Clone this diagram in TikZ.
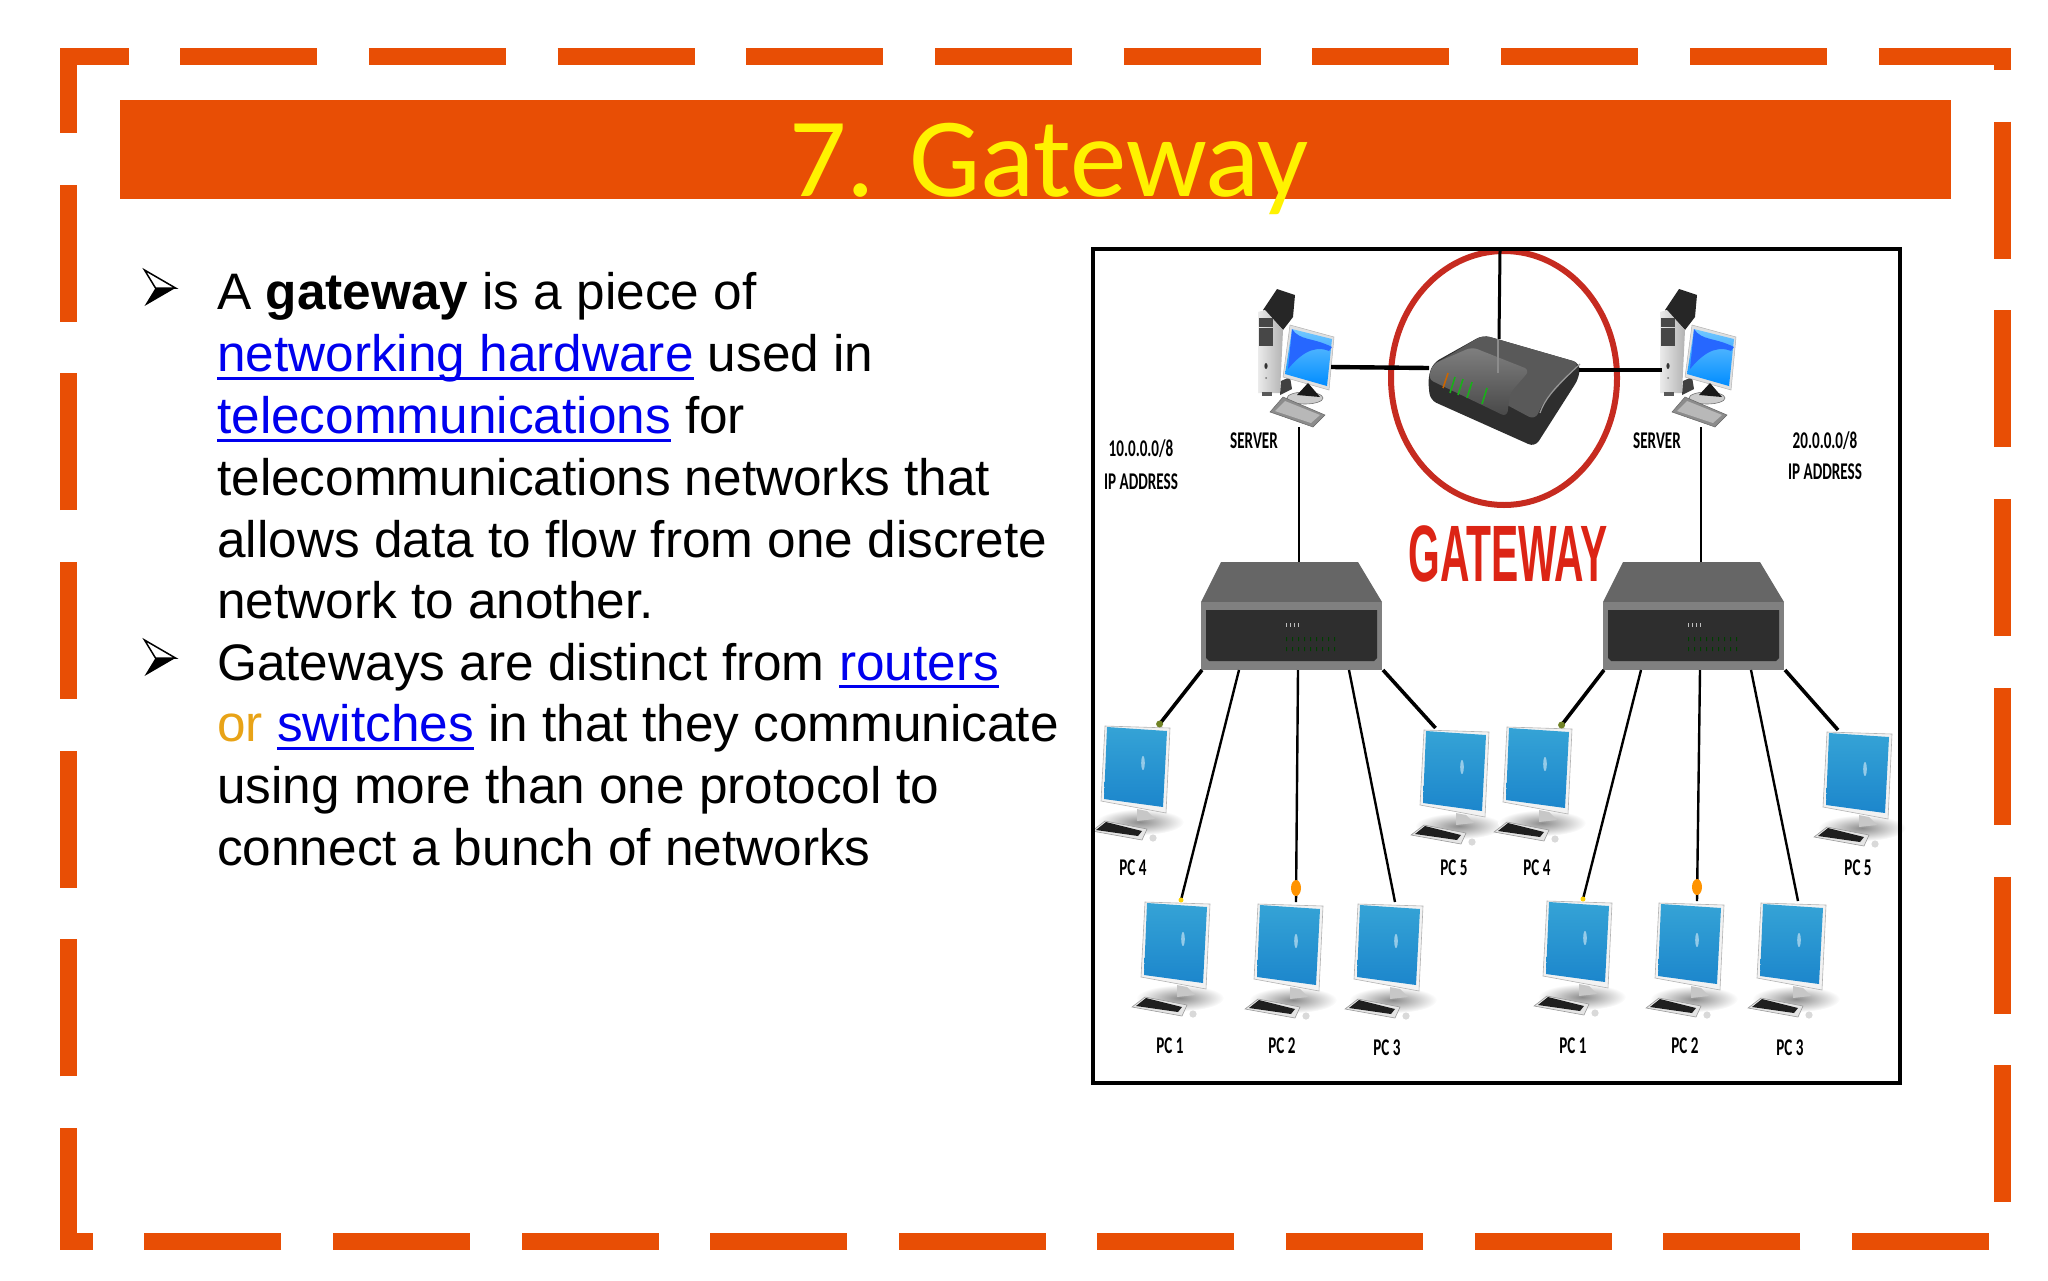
\documentclass[tikz,border=0pt]{standalone}
\usepackage{fontspec}
\setmainfont{Liberation Sans}
\newfontfamily\titlefont{Carlito}
\newfontfamily\pcfont[FakeStretch=.63]{Carlito}
\newfontfamily\gatefont[FakeStretch=.51]{Liberation Sans}
\definecolor{frameorange}{HTML}{E84E05}
\definecolor{linkblue}{HTML}{0000EE}
\definecolor{orword}{HTML}{E8A317}
\definecolor{ringred}{HTML}{C62B20}
\definecolor{gatered}{HTML}{DC2415}
\definecolor{scrtop}{HTML}{35A3D6}
\definecolor{scrbot}{HTML}{1C86CC}
\newsavebox{\linkbox}
\newcommand{\weblink}[1]{\textcolor{linkblue}{\sbox{\linkbox}{#1}\rlap{\rule[-8pt]{\wd\linkbox}{2.8pt}}\usebox{\linkbox}}}
\tikzset{
	framedash/.style={frameorange, line width=17pt, dash pattern=on 137pt off 51.7pt},
	bodytxt/.style={font=\fontsize{51.33}{61.8}\selectfont, align=left, anchor=north west, inner sep=0pt},
	pctxt/.style={font=\pcfont\bfseries\fontsize{24}{24}\selectfont, inner sep=0pt},
	cablethin/.style={draw=black, line width=2.4pt},
	cablethick/.style={draw=black, line width=3.6pt},
	pics/listarrow/.style={code={
		\fill [black] (0,36) -- (11,18) -- (31,18) -- cycle;
		\draw [black, line width=1.5pt, line join=miter, fill=white] (0,0) -- (31,18) -- (11,18) -- cycle;
	}},
	pics/pcunit/.style={code={
		\shade [inner color=black!45, outer color=white] (34,96) ellipse (44 and 13);
		\fill [black!22] (31,83) -- (41,85) -- (49,93) -- (31,95) -- cycle;
		\fill [black!5, draw=black!30, line width=.6pt] (-1,0) -- (64,2) -- (60,87) -- (-5,75) -- cycle;
		\shade [top color=scrtop, bottom color=scrbot] (1,1) -- (61,5) -- (57,81) -- (-2,73) -- cycle;
		\fill [white, opacity=.5] (37,37) ellipse (1.8 and 7);
		\fill [black!10, draw=black!40, line width=.6pt] (-14,105) -- (-1,95) -- (41,103) -- (36,114) -- cycle;
		\fill [black!88] (-10,104) -- (0,96) -- (36,105) -- (32,110) -- cycle;
		\fill [black!15] (47,112) circle (3.6);
		\coordinate (-top) at (#1,-2);
	}},
	pics/serverunit/.style={code={
		\fill [black!85] (17,0) -- (35,6) -- (33,28) -- (23,41) -- (3,21) -- cycle;
		\shade [left color=black!8, right color=black!30] (-2,23) -- (5,21) -- (23,41) -- (20,104) -- (-2,104) -- cycle;
		\foreach \bayy in {29,39,48}
			\fill [black!72] (-1,\bayy) rectangle (13,\bayy+9);
		\fill [black!80] (6,77) ellipse (1.6 and 3);
		\fill [black!55] (6,89) circle (1);
		\fill [black!65] (2,103) rectangle (12,107);
		\fill [black!75] (21,92) -- (30,88) -- (32,100) -- (20,106) -- cycle;
		\fill [black!12, draw=black!30, line width=.5pt] (30,36) -- (74,48) -- (69,101) -- (23,88) -- cycle;
		\shade [top color=blue!40!cyan!55, bottom color=blue!45!cyan] (32,40) -- (72,50) -- (67,97) -- (25,85) -- cycle;
		\fill [blue!70!cyan!85] (32,40) .. controls (40,52) and (52,48) .. (72,58) -- (69,62) .. controls (52,55) and (38,68) .. (28,80) -- cycle;
		\fill [black!20, draw=black!55, line width=.6pt] (45,109) ellipse (18 and 6);
		\fill [black!90] (37,106) -- (48,94) -- (60,108) -- cycle;
		\fill [black!45, draw=black!60, line width=.5pt] (10,123) -- (23,108) -- (65,126) -- (53,138) -- cycle;
		\fill [black!28] (15,122) -- (25,112) -- (60,126) -- (51,134) -- cycle;
		\coordinate (-out) at (71,78);
		\coordinate (-in) at (0,81);
		\coordinate (-bot) at (39,138);
	}},
	pics/switchbox/.style={code={
		\fill [black!60] (20,0) -- (157,0) -- (181,40) -- (0,40) -- cycle;
		\fill [black!50] (0,40) rectangle (181,108);
		\fill [black!82] (5,48) -- (176,48) -- (176,96) -- (173,99) -- (8,99) -- (5,96) -- cycle;
		\foreach \ledx in {85,89,93,97}
			\fill [black!25] (\ledx,61) rectangle +(1,4);
		\foreach \ledx in {85,91,...,133}
			\fill [green!25!black] (\ledx,75) rectangle +(1,4) (\ledx,85) rectangle +(1,4);
		\coordinate (-up) at (98,0);
		\coordinate (-pa) at (1,108);
		\coordinate (-pb) at (38,108);
		\coordinate (-pc) at (97,108);
		\coordinate (-pd) at (148,108);
		\coordinate (-pe) at (182,108);
	}},
	pics/routerbox/.style={code={
		\fill [black!82, rounded corners=7pt] (55,0) -- (152,28) -- (151,43) -- (107,112) -- (2,65) -- (0,43) -- (5,28) -- cycle;
		\fill [black!65, rounded corners=7pt] (55,0) -- (152,28) -- (115,68) -- (107,85) -- (79,70) -- (5,30) -- cycle;
		\shade [top color=black!50, bottom color=black!72, rounded corners=6pt] (5,29) -- (44,12) -- (102,35) -- (82,58) -- (79,82) -- (0,44) -- cycle;
		\draw [black!40, line width=1.2pt] (152,29) .. controls (135,45) and (118,60) .. (112,78);
		\draw [orange!80!black, line width=1.6pt] (20,38) -- (15,53);
		\foreach \ledx/\ledy in {27/42,35/44,44/47,59/53}
			\draw [green!65!black!90!white, line width=1.6pt] (\ledx,\ledy) -- (\ledx-5,\ledy+16);
		\draw [black!45, line width=1.2pt] (70,4) -- (70,38);
		\coordinate (-ant) at (71,4);
		\coordinate (-lft) at (1,33);
		\coordinate (-rgt) at (151,35);
	}},
}
\begin{document}
\begin{tikzpicture}[x=1pt, y=-1pt]
	\useasboundingbox (0,0) rectangle (2048,1280);

	% page frame and title band
	\draw [framedash, dash phase=68.5pt] (60,56.5) -- (2002,56.5) -- (2002,1241) -- (1000,1241);
	\draw [framedash, dash phase=36pt] (1000,1241) -- (68.5,1241) -- (68.5,48);
	\fill [frameorange] (119.5,99.5) rectangle (1951,198.7);
	\node [font=\titlefont\fontsize{113}{113}\selectfont, text=yellow, inner sep=0pt, anchor=base] (title) at (1049,196) {7. Gateway};

	% text
	\pic (bulleta) at (144.5,270) {listarrow};
	\pic (bulletb) at (144.5,640) {listarrow};
	\node [bodytxt] (itema) at (217,272.5) {A \textbf{gateway} is a piece of\\
		\weblink{networking hardware} used in\\
		\weblink{telecommunications} for\\
		telecommunications networks that\\
		allows data to flow from one discrete\\
		network to another.};
	\node [bodytxt] (itemb) at (217,642.7) {Gateways are distinct from \weblink{routers}\\
		\textcolor{orword}{or} \weblink{switches} in that they communicate\\
		using more than one protocol to\\
		connect a bunch of networks};

	% network picture
	\coordinate (anttop) at (1500,251);
	\draw [ringred, line width=6pt] (1504,378) ellipse (113 and 127);

	\pic (srvl) at (1260,289) {serverunit};
	\pic (srvr) at (1662,289) {serverunit};
	\pic (router) at (1428,335) {routerbox};
	\pic (swl) at (1201,562) {switchbox};
	\pic (swr) at (1603,562) {switchbox};

	\foreach \pcname/\pcx/\pcy/\tipx in {lpcd/1106/726/53.6, lpce/1425/730/10.5, rpcd/1508/727/53.6, rpce/1828/732/10,
			lpca/1146/902/35, lpcb/1259/904/37, lpcc/1359/904/36, rpca/1548/901/35, rpcb/1660/903/37, rpcc/1762/903/36}
		\pic (\pcname) at (\pcx,\pcy) {pcunit=\tipx};

	\draw [black, line width=3.4pt] (1093,249) rectangle (1900,1083);

	\draw [black, line width=4.4pt] (srvl-out) -- (router-lft);
	\draw [black, line width=4.4pt] (router-rgt) -- (srvr-in);
	\draw [black, line width=3pt] (anttop) -- (router-ant);
	\draw [cablethin] (srvl-bot) -- (swl-up);
	\draw [cablethin] (srvr-bot) -- (swr-up);

	\foreach \sw/\side in {swl/l, swr/r} {
		\draw [cablethick] (\sw-pa) -- (\side pcd-top);
		\draw [cablethin] (\sw-pb) -- (\side pca-top);
		\draw [cablethin] (\sw-pc) -- (\side pcb-top);
		\draw [cablethin] (\sw-pd) -- (\side pcc-top);
		\draw [cablethick] (\sw-pe) -- (\side pce-top);
		\fill [olive!70!green!80!black] (\side pcd-top) circle (3.5);
		\fill [yellow!70!orange] (\side pca-top) circle (2.5);
		\fill [orange!85!yellow] ([yshift=14pt]\side pcb-top) ellipse (5 and 8);
	}

	% labels
	\node [font=\gatefont\bfseries\fontsize{80}{80}\selectfont, text=gatered, inner sep=0pt] (gatelbl) at (1508,554) {GATEWAY};
	\node [pctxt] (ipl) at (1141,449) {10.0.0.0/8};
	\node [pctxt] (ipll) at (1141,482) {IP ADDRESS};
	\node [pctxt] (ipr) at (1825,441) {20.0.0.0/8};
	\node [pctxt] (iprr) at (1825,472) {IP ADDRESS};
	\node [pctxt] (srvllbl) at (1254,441) {SERVER};
	\node [pctxt] (srvrlbl) at (1657,441) {SERVER};
	\node [pctxt] (la) at (1170,1046) {PC 1};
	\node [pctxt] (lb) at (1282,1046) {PC 2};
	\node [pctxt] (lc) at (1387,1048) {PC 3};
	\node [pctxt] (ld) at (1133,868) {PC 4};
	\node [pctxt] (le) at (1454,868) {PC 5};
	\node [pctxt] (ra) at (1573,1046) {PC 1};
	\node [pctxt] (rb) at (1685,1046) {PC 2};
	\node [pctxt] (rc) at (1790,1048) {PC 3};
	\node [pctxt] (rd) at (1537,868) {PC 4};
	\node [pctxt] (re) at (1858,868) {PC 5};
\end{tikzpicture}
\end{document}
